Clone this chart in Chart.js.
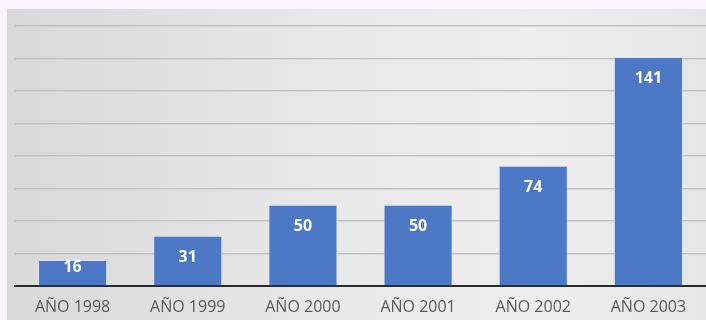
<!DOCTYPE html>
<html>
<head>
<meta charset="utf-8">
<script src="https://cdn.jsdelivr.net/npm/chart.js@4/dist/chart.umd.min.js"></script>
<style>
  html, body { margin: 0; padding: 0; background: #f8f3fd; }
  #panel {
    position: absolute; left: 7px; top: 9px; width: 699px; height: 311px;
    background: linear-gradient(to right, #d9d9d9 0%, #e8e8e8 45%, #eeeeee 75%, #e6e6e6 100%);
  }
</style>
</head>
<body>
<div id="panel"><canvas id="grafico"></canvas></div>
<script>
const categorias = ['AÑO 1998', 'AÑO 1999', 'AÑO 2000', 'AÑO 2001', 'AÑO 2002', 'AÑO 2003'];
const valores = [16, 31, 50, 50, 74, 141];
const ejeMax = 160;
const ejePaso = 20;

// etiquetas blancas dentro de la barra, cerca del borde superior
const etiquetas = {
    id: 'etiquetas',
    afterDatasetsDraw(chart) {
        const ctx = chart.ctx;
        const base = chart.scales.y.getPixelForValue(0);
        ctx.save();
        ctx.font = 'bold 16px "Open Sans"';
        ctx.fillStyle = '#ffffff';
        ctx.textAlign = 'center';
        ctx.textBaseline = 'top';
        chart.getDatasetMeta(0).data.forEach((bar, i) => {
            const y = Math.min(bar.y + 14, base - 27);
            ctx.fillText(String(valores[i]), bar.x, y);
        });
        ctx.restore();
    }
};

new Chart(document.getElementById('grafico'), {
    type: 'bar',
    data: {
        labels: categorias,
        datasets: [{
            data: valores,
            backgroundColor: '#4d78c6',
            borderColor: 'rgba(214,226,248,0.9)',
            borderWidth: 1,
            barPercentage: 0.6,
            categoryPercentage: 1
        }]
    },
    options: {
        responsive: true,
        maintainAspectRatio: false,
        animation: false,
        layout: { padding: { top: 17, right: 0, left: 0, bottom: 0 } },
        plugins: { legend: { display: false }, tooltip: { enabled: false } },
        scales: {
            x: {
                grid: { display: false, drawTicks: false },
                border: { color: '#2b2b2b', width: 2 },
                ticks: { color: '#595959', font: { family: 'Open Sans', size: 16 }, padding: 12 },
                afterFit(s) { s.height = 34; }
            },
            y: {
                min: 0,
                max: ejeMax,
                ticks: { display: false, stepSize: ejePaso },
                grid: { color: '#c2c2c2', lineWidth: 1.5, drawTicks: false },
                border: { display: false },
                afterFit(s) { s.width = 8; }
            }
        }
    },
    plugins: [etiquetas]
});
</script>
</body>
</html>
